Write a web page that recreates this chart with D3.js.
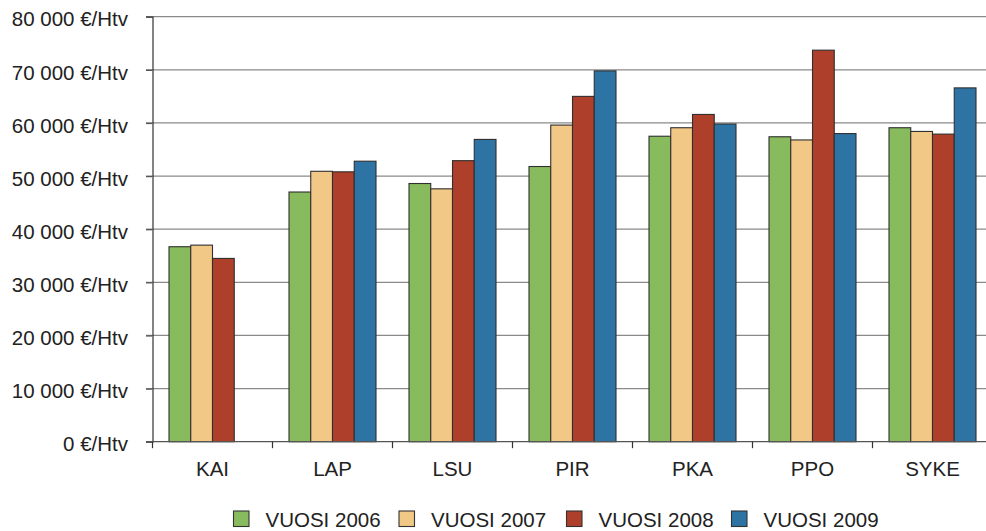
<!DOCTYPE html>
<html>
<head>
<meta charset="utf-8">
<script src="https://cdn.jsdelivr.net/npm/d3@7/dist/d3.min.js"></script>
<style>
  html, body { margin: 0; padding: 0; background: #fff; }
  svg { display: block; font-family: "Liberation Sans", Arial, sans-serif; }
</style>
</head>
<body>
<script>
const categories = ["KAI", "LAP", "LSU", "PIR", "PKA", "PPO", "SYKE"];
const seriesNames = ["VUOSI 2006", "VUOSI 2007", "VUOSI 2008", "VUOSI 2009"];
const v2006 = [36700, 47000, 48600, 51800, 57500, 57400, 59100];
const v2007 = [37000, 50900, 47600, 59600, 59100, 56800, 58400];
const v2008 = [34500, 50800, 52900, 65000, 61600, 73700, 57900];
const v2009 = [null, 52800, 56900, 69800, 59800, 58000, 66600];
const yTicks = [0, 10000, 20000, 30000, 40000, 50000, 60000, 70000, 80000];
const colors = ["#87bb5d", "#f2c886", "#ad3f2b", "#2d74a5"];

const seriesValues = [v2006, v2007, v2008, v2009];
const W = 986, H = 531;
const svg = d3.select("body").append("svg").attr("width", W).attr("height", H);

const y = d3.scaleLinear().domain([0, 80000]).range([441.7, 16.7]);
const x0 = d3.scaleBand().domain(categories).range([152.5, 992.5])
  .paddingInner(0.275).paddingOuter(0.1375);
const x1 = d3.scaleBand().domain(seriesNames).range([0, x0.bandwidth()]);

const locale = d3.formatLocale({decimal: ",", thousands: "\u00a0", grouping: [3], currency: ["", "€"]});
const fmt = locale.format(",d");

// gridlines
svg.append("g").selectAll("line").data(yTicks.filter(d => d > 0)).join("line")
  .attr("x1", 146).attr("x2", W)
  .attr("y1", d => y(d)).attr("y2", d => y(d))
  .attr("stroke", "#8a8a8a").attr("stroke-width", 1.3);

// y axis
const yAxis = svg.append("g").attr("transform", "translate(152.5,0)")
  .call(d3.axisLeft(y).tickValues(yTicks).tickSize(6.5).tickPadding(18)
    .tickFormat(d => fmt(d) + " €/Htv"));
yAxis.select(".domain").attr("stroke", "#333").attr("stroke-width", 1.2);
yAxis.selectAll(".tick line").attr("stroke", "#555").attr("stroke-width", 1.3);
yAxis.selectAll(".tick text").attr("font-size", "20.5px").attr("fill", "#222")
  .attr("font-family", "Liberation Sans, Arial, sans-serif").attr("dy", "0.45em");

// bars
const groups = svg.append("g").selectAll("g").data(categories).join("g")
  .attr("transform", c => `translate(${x0(c)},0)`);
groups.selectAll("rect")
  .data((c, i) => seriesNames.map((s, j) => ({s, j, v: seriesValues[j][i]})).filter(d => d.v != null))
  .join("rect")
  .attr("x", d => x1(d.s))
  .attr("y", d => y(d.v))
  .attr("width", x1.bandwidth())
  .attr("height", d => y(0) - y(d.v))
  .attr("fill", d => colors[d.j])
  .attr("stroke", "#2f2f2f").attr("stroke-width", 1.1);

// x axis
const xAxisG = svg.append("g").attr("transform", `translate(0,${y(0)})`);
xAxisG.append("line").attr("x1", 146).attr("x2", W).attr("y1", 0).attr("y2", 0)
  .attr("stroke", "#555").attr("stroke-width", 1.3);
const step = x0.step();
const boundaries = d3.range(categories.length + 1).map(i => x0.range()[0] + i * step);
xAxisG.selectAll("line.tk").data(boundaries).join("line").attr("class", "tk")
  .attr("x1", d => d).attr("x2", d => d).attr("y1", 0).attr("y2", 6.5)
  .attr("stroke", "#333").attr("stroke-width", 1.2);
xAxisG.selectAll("text").data(categories).join("text")
  .attr("x", c => x0(c) + x0.bandwidth() / 2)
  .attr("y", 34.5)
  .attr("text-anchor", "middle")
  .attr("font-size", "20.5px").attr("fill", "#222")
  .text(c => c);

// legend
const legendX = [233.5, 399, 566.5, 731.5];
const lg = svg.append("g").selectAll("g").data(seriesNames).join("g")
  .attr("transform", (d, i) => `translate(${legendX[i]},511)`);
lg.append("rect").attr("width", 15.5).attr("height", 15.5)
  .attr("fill", (d, i) => colors[i]).attr("stroke", "#333").attr("stroke-width", 1.1);
lg.append("text").attr("x", 32).attr("y", 15.5)
  .attr("font-size", "20.5px").attr("fill", "#222")
  .text(d => d);
</script>
</body>
</html>
